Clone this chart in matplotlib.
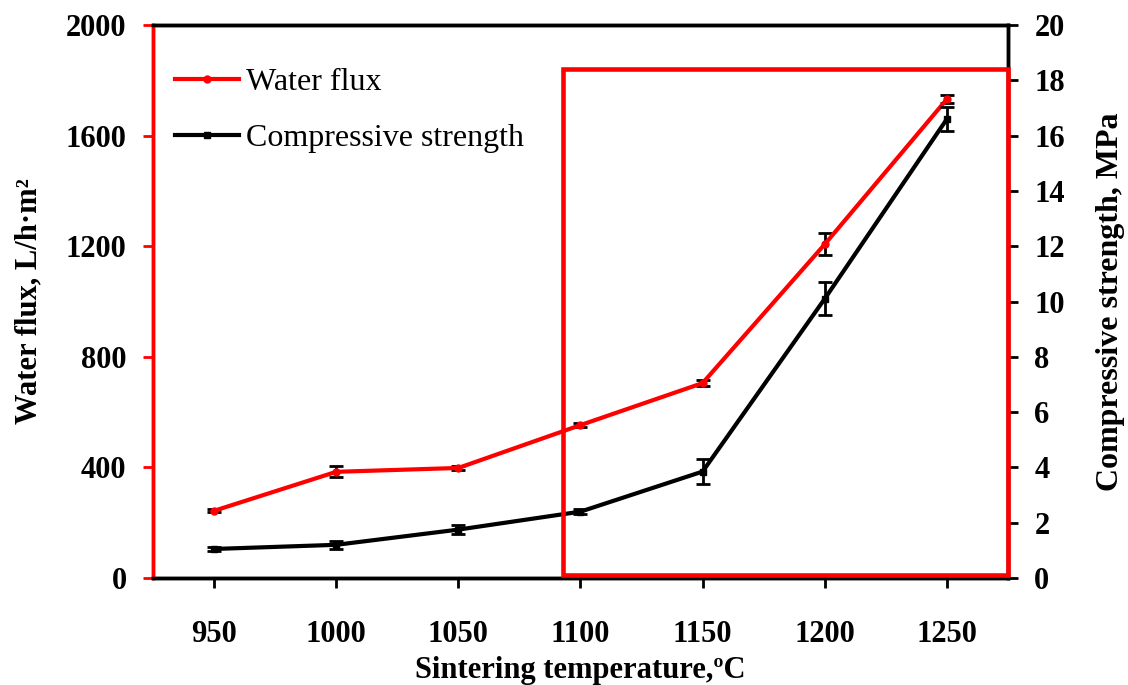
import numpy as np
import matplotlib
matplotlib.use("Agg")
import matplotlib.pyplot as plt
from matplotlib.patches import Rectangle

plt.rcParams['font.family'] = ['Liberation Serif', 'DejaVu Serif']

# data
temperature = [950, 1000, 1050, 1100, 1150, 1200, 1250]
water_flux = [243, 384, 398, 553, 705, 1207, 1732]
water_flux_err = [6, 20, 6, 6, 10, 40, 15]
strength = [1.05, 1.2, 1.75, 2.4, 3.85, 10.1, 16.6]
strength_err = [0.06, 0.15, 0.15, 0.08, 0.45, 0.6, 0.42]
flux_ticks = [0, 400, 800, 1200, 1600, 2000]
strength_ticks = [0, 2, 4, 6, 8, 10, 12, 14, 16, 18, 20]

# highlighted region (red box), in x data / right axis units
box_x = (1093, 1275)
box_y = (0.12, 18.4)

fig = plt.figure(figsize=(11.28, 6.85), dpi=100)
ax = fig.add_axes([0.1356, 0.1562, 0.7580, 0.8073])
ax2 = ax.twinx()

l1 = ax.errorbar(temperature, water_flux, yerr=water_flux_err, color='#ff0000', lw=3,
                 marker='o', ms=5, ecolor='black', elinewidth=2, capsize=5, capthick=2,
                 label='Water flux', zorder=3)
l2 = ax2.errorbar(temperature, strength, yerr=strength_err, color='black', lw=3,
                  marker='s', ms=5, ecolor='black', elinewidth=2, capsize=5, capthick=2,
                  label='Compressive strength', zorder=3)

ax.set_xlim(925, 1275)
ax.set_ylim(0, 2000)
ax2.set_ylim(0, 20)
ax.set_xticks(temperature)
ax.set_yticks(flux_ticks)
ax2.set_yticks(strength_ticks)

for a in (ax, ax2):
    for s in a.spines.values():
        s.set_linewidth(2.5)
        s.set_color('black')
ax.spines['left'].set_color('#ff0000')
ax2.spines['left'].set_color('#ff0000')

ax.tick_params(axis='y', length=7, width=2, direction='out', labelsize=22, pad=12,
               color='#ff0000', labelcolor='black')
ax.tick_params(axis='x', length=7, width=2, direction='out', labelsize=22, pad=23)
ax2.tick_params(axis='y', length=7, width=2, direction='out', labelsize=22, pad=12)
for lab in ax.get_xticklabels() + ax.get_yticklabels() + ax2.get_yticklabels():
    lab.set_fontweight('bold')

ax.set_xlabel('Sintering temperature,ºC', fontsize=22, fontweight='bold', labelpad=5)
ax.set_ylabel('Water flux, L/h·m²', fontsize=22, fontweight='bold', labelpad=16)
ax2.set_ylabel('Compressive strength, MPa', fontsize=23, fontweight='bold', labelpad=22)

rect = Rectangle((box_x[0], box_y[0]), box_x[1] - box_x[0], box_y[1] - box_y[0],
                 fill=False, edgecolor='#ff0000', lw=3.3, zorder=5, clip_on=False)
ax2.add_patch(rect)

leg = ax2.legend([l1[0], l2[0]], ['Water flux', 'Compressive strength'], loc='upper left',
                 bbox_to_anchor=(0.026, 0.922), frameon=False, fontsize=23,
                 borderpad=0, borderaxespad=0,
                 handlelength=2.0, handletextpad=0.22, labelspacing=0.82)

fig.savefig('out.png', dpi=100)
